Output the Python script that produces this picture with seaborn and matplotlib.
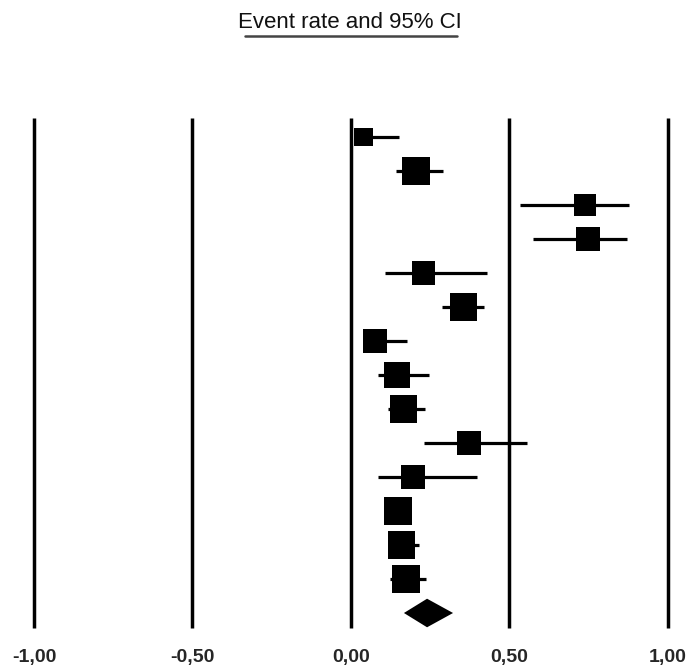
import numpy as np
import pandas as pd
import matplotlib
matplotlib.use("Agg")
import matplotlib.pyplot as plt
from matplotlib.lines import Line2D
import seaborn as sns

# Données (taux d'événement et IC 95%)
event_rate = [0.04, 0.205, 0.738, 0.748, 0.228, 0.354, 0.076, 0.146, 0.165, 0.372, 0.196, 0.148, 0.160, 0.174]
ci_lower = [0.013, 0.142, 0.533, 0.574, 0.107, 0.287, 0.037, 0.086, 0.117, 0.230, 0.086, 0.120, 0.120, 0.123]
ci_upper = [0.150, 0.290, 0.877, 0.871, 0.429, 0.420, 0.176, 0.247, 0.234, 0.555, 0.397, 0.180, 0.215, 0.237]
weights = [3.8, 9.1, 5.1, 6.1, 6.1, 8.4, 6.1, 7.8, 8.4, 6.7, 6.7, 8.4, 8.4, 9.1]

pooled_rate = 0.240
pooled_lower = 0.167
pooled_upper = 0.322

tick_values = [-1.0, -0.5, 0.0, 0.5, 1.0]
tick_labels = ["-1,00", "-0,50", "0,00", "0,50", "1,00"]
title = "Event rate and 95% CI"

df = pd.DataFrame({
    "rate": event_rate,
    "lower": ci_lower,
    "upper": ci_upper,
    "weight": weights,
})
df["row"] = np.arange(len(df))
n_rows = len(df)

sns.set_style("white")
plt.rcParams["font.family"] = ["Liberation Sans", "DejaVu Sans"]

fig = plt.figure(figsize=(6.92, 6.68), dpi=100)
ax = fig.add_axes([0.0262, 0.0518, 0.962, 0.7787])

# lignes verticales de référence
ax.vlines(tick_values, -0.56, n_rows + 0.44, color="black", lw=2.5, zorder=1)

# intervalles de confiance
ax.hlines(df["row"], df["lower"], df["upper"], color="black", lw=2.3, zorder=2)

# carrés pondérés
sns.scatterplot(data=df, x="rate", y="row", size="weight", marker="s",
                sizes=(175, 420), size_norm=(min(weights), max(weights)),
                color="black", linewidth=0, legend=False, ax=ax, zorder=3)

# losange de l'effet combiné
d_row = n_rows
half_h = 0.42
ax.fill([pooled_lower, pooled_rate, pooled_upper, pooled_rate],
        [d_row, d_row - half_h, d_row, d_row + half_h],
        color="black", lw=0, zorder=3)

ax.set_xlim(-1.05, 1.05)
ax.set_ylim(n_rows + 0.6, -0.7)
ax.set_xticks(tick_values, tick_labels, fontsize=14, fontweight="bold")
ax.set_yticks([])
ax.tick_params(axis="x", length=0, pad=11)
ax.set_xlabel("")
ax.set_ylabel("")
sns.despine(ax=ax, left=True, bottom=True)

# titre souligné
fig.text(350 / 692, 1 - 22 / 668, title, ha="center", va="center",
         fontsize=16, color="#111111")
fig.add_artist(Line2D([245 / 692, 457 / 692], [1 - 36 / 668, 1 - 36 / 668],
                      transform=fig.transFigure, color="#444444", lw=1.8))

fig.savefig("out.png", dpi=100)
